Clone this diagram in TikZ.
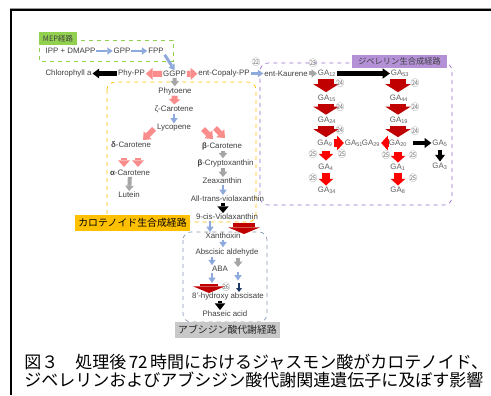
\documentclass[tikz,border=0pt]{standalone}
\usepackage{fontspec}
\setmainfont{Liberation Sans}
\newfontfamily\jp{Noto Sans CJK JP}
\usetikzlibrary{arrows.meta,calc}
\definecolor{txt}{RGB}{64,64,64}
\definecolor{blueA}{RGB}{142,169,219}
\definecolor{pinkA}{RGB}{250,140,140}
\definecolor{grayA}{RGB}{166,166,166}
\definecolor{dredA}{RGB}{192,0,0}
\definecolor{redA}{RGB}{255,0,0}
\definecolor{navyA}{RGB}{31,56,100}
\definecolor{mepG}{RGB}{146,208,80}
\definecolor{carO}{RGB}{255,192,0}
\definecolor{gibP}{RGB}{180,145,215}
\definecolor{gibL}{RGB}{150,110,200}
\definecolor{abaG}{RGB}{200,200,200}
\definecolor{abaL}{RGB}{132,151,176}
\newcommand\lblfont{\fontsize{5.9pt}{7pt}\selectfont}
\newcommand\cnfont{\jp\fontsize{6.6pt}{6.6pt}\selectfont}
\newcommand\GA[1]{GA\textsubscript{#1}}
\begin{document}
\begin{tikzpicture}[x=0.75pt,y=-0.75pt,
 lab/.style={font=\lblfont, text=txt, inner sep=0.6pt},
 gal/.style={font=\lblfont, text=txt!85, inner sep=0.6pt},
 cn/.style={font=\cnfont, text=black!50, inner sep=0pt},
 fat/.style n args={4}{color=#1, line width=#2, -{Triangle[length=#3,width=#4,line width=0pt]}},
 ablu/.style={fat={blueA}{2.2pt}{4pt}{5.5pt}},
 agry/.style={fat={grayA}{3pt}{4pt}{6.5pt}},
 apnk/.style={fat={pinkA}{4.5pt}{5pt}{9pt}},
 ablk/.style={fat={black}{3.2pt}{5pt}{7.5pt}},
 adred/.style={fat={dredA}{11.5pt}{6pt}{19pt}, shorten <=1pt, shorten >=1pt},
 ared/.style={fat={redA}{6pt}{5pt}{11pt}},
 abig/.style={fat={dredA}{17pt}{5pt}{24pt}},
 anavy/.style={fat={navyA}{1.4pt}{3pt}{4.5pt}},
 tag/.style={inner sep=0pt, text=txt},
 capt/.style={anchor=west, inner sep=0pt, font=\jp\fontsize{12.75pt}{12.75pt}\selectfont},
]
\useasboundingbox (0,0) rectangle (491,395);
\fill[white] (0,0) rectangle (491,395);
% frame
\draw[black!40, line width=0.4pt] (10,8.2) -- (491,8.2);
\draw[black, line width=1.5pt] (10.5,395) -- (10.5,10.5) -- (491,10.5);

% boxes
\draw[mepG, dashed, line width=0.5pt] (39,40) rectangle (173,61);
\draw[gibL, dashed, line width=0.5pt, rounded corners=6pt] (260,63) rectangle (452,205);
\draw[carO, dashed, line width=0.5pt, rounded corners=6pt] (107,82) rectangle (256,222);
\draw[abaL, dashed, line width=0.5pt, rounded corners=6pt] (183,232) rectangle (267,322);
\node[tag, fill=mepG, minimum width=28.5pt, minimum height=9.7pt, font=\jp\fontsize{5.6pt}{5.6pt}\selectfont] (mep) at (58,38.5) {MEP経路};
\node[tag, fill=gibP, minimum width=71.3pt, minimum height=9.7pt, font=\jp\fontsize{6.2pt}{6.2pt}\selectfont] (giblab) at (399.5,61.5) {ジベレリン生合成経路};
\node[tag, fill=carO, minimum width=86.3pt, minimum height=12pt, font=\jp\fontsize{7.4pt}{7.4pt}\selectfont, text=black] (carlab) at (132.5,222.5) {カロテノイド生合成経路};
\node[tag, fill=abaG, minimum width=78.8pt, minimum height=12pt, font=\jp\fontsize{7.4pt}{7.4pt}\selectfont, text=black!85] (abalab) at (227.5,330) {アブシジン酸代謝経路};

% helper columns
\coordinate (k1) at (326,0);
\coordinate (k2) at (398,0);
\coordinate (kb) at (223,0);
\coordinate (k210) at (210,0);
\coordinate (k212) at (212,0);
\coordinate (k220) at (220,0);

% MEP row
\node[lab] (ipp) at (70.5,51) {IPP + DMAPP};
\node[lab] (gpp) at (122,51) {GPP};
\node[lab] (fpp) at (156,51) {FPP};
\draw[ablu] (ipp) -- (gpp);
\draw[ablu] (gpp) -- (fpp);

% GGPP row
\node[lab] (chl) at (68.5,73.5) {Chlorophyll a};
\node[lab] (phypp) at (131.5,73.5) {Phy-PP};
\node[lab] (ggpp) at (174.5,74) {GGPP};
\node[lab] (cpp) at (224,73.5) {ent-Copaly-PP};
\node[lab] (kau) at (286,73.5) {ent-Kaurene};
\node[gal] (ga12) at (327,73.5) {\GA{12}};
\node[gal] (ga53) at (400,73.5) {\GA{53}};
\draw[ablu] (fpp.south east) -- (ggpp.north);
\draw[ablk] (phypp) -- (chl);
\draw[apnk] (ggpp) -- (phypp);
\draw[apnk] (ggpp) -- (cpp);
\draw[ablu] (cpp) -- (kau);
\draw[agry] (kau) -- (ga12);
\draw[fat={black}{3.8pt}{5.5pt}{8pt}] (ga12) -- (ga53);
\node[cn] (c22) at (256,62) {㉒};
\node[cn] (c23) at (313,63) {㉓};

% carotenoid pathway
\node[lab] (phyt) at (175,91) {Phytoene};
\node[lab] (zeta) at (174,109) {ζ-Carotene};
\node[lab] (lyc) at (174,128) {Lycopene};
\draw[agry] (ggpp) -- (phyt);
\draw[fat={pinkA}{4.5pt}{4pt}{9pt}] (phyt) -- (zeta);
\draw[ablu] (zeta) -- (lyc);
\node[lab] (dcar) at (131,144.5) {\textbf{δ}-Carotene};
\node[lab] (bcar) at (222,146) {\textbf{β}-Carotene};
\coordinate (pd1) at (154,129);
\coordinate (pd2) at (143,140);
\coordinate (pb1) at (203,129);
\coordinate (pb2) at (213,139);
\coordinate (pb3) at (215,128);
\coordinate (pb4) at (225,138);
\draw[fat={pinkA}{4pt}{5pt}{8.5pt}] (pd1) -- (pd2);
\draw[fat={pinkA}{4pt}{5pt}{8.5pt}] (pb1) -- (pb2);
\draw[fat={pinkA}{4pt}{5pt}{8.5pt}] (pb3) -- (pb4);
\node[lab] (acar) at (130,173) {\textbf{α}-Carotene};
\node[lab] (lut) at (129,195) {Lutein};
\coordinate (pa1) at (124,158);
\coordinate (pa2) at (124,167);
\coordinate (pa3) at (138,158);
\coordinate (pa4) at (138,167);
\draw[fat={pinkA}{4pt}{5pt}{9pt}] (pa1) -- (pa2);
\draw[fat={pinkA}{4pt}{5pt}{9pt}] (pa3) -- (pa4);
\draw[agry] (acar) -- (lut);
\node[lab] (bcry) at (225.5,163) {\textbf{β}-Cryptoxanthin};
\node[lab] (zea) at (222,181) {Zeaxanthin};
\node[lab] (atv) at (227.5,199) {All-trans-violaxanthin};
\node[lab] (cisv) at (227,217) {9-cis-Violaxanthin};
\draw[agry] (bcar.south -| kb) -- (bcry.north -| kb);
\draw[agry] (bcry.south -| kb) -- (zea.north -| kb);
\draw[ablu] (zea.south -| kb) -- (atv.north -| kb);
\draw[fat={black}{3.2pt}{5pt}{8.5pt}] (atv.south -| kb) -- (cisv.north -| kb);

% ABA pathway
\node[lab] (xan) at (223,236) {Xanthoxin};
\node[lab] (aald) at (227,252) {Abscisic aldehyde};
\node[lab] (aba) at (220,269) {ABA};
\node[lab] (hyd) at (228,296.5) {8'-hydroxy abscisate};
\node[lab] (pha) at (225,314) {Phaseic acid};
\draw[ablu] (cisv.south -| k210) -- (xan.north -| k210);
\coordinate (nx1) at (244,223);
\coordinate (nx2) at (244,234);
\draw[abig] (nx1) -- (nx2);
\draw[ablu] (xan) -- (aald.north -| xan);
\draw[ablu] (aald.south -| k212) -- (aba.north -| k212);
\coordinate (g1) at (238,257.5);
\coordinate (g2) at (238,267);
\draw[agry] (g1) -- (g2);
\coordinate (b1) at (212,273);
\coordinate (b2) at (212,283);
\draw[ablu] (b1) -- (b2);
\coordinate (b3) at (238,271.5);
\coordinate (b4) at (238,280.5);
\draw[ablu] (b3) -- (b4);
\coordinate (n1) at (239,283);
\coordinate (n2) at (239,292);
\draw[anavy] (n1) -- (n2);
\coordinate (r1) at (209,283.5);
\coordinate (r2) at (209,293);
\draw[fat={dredA}{14pt}{5pt}{24pt}] (r1) -- (r2);
\node[cn] (c26) at (226,287) {㉖};
\draw[fat={black}{3.2pt}{5pt}{8pt}] (hyd.south -| k220) -- (pha.north -| k220);

% gibberellin grid
\node[gal] (ga15) at (327,98) {\GA{15}};
\node[gal] (ga44) at (399,98) {\GA{44}};
\node[gal] (ga24) at (327,120.5) {\GA{24}};
\node[gal] (ga19) at (399,120.5) {\GA{19}};
\node[gal] (ga9) at (325,143) {\GA{9}};
\node[gal] (ga51) at (354,143) {\GA{51}};
\node[gal] (ga29) at (371,143) {\GA{29}};
\node[gal] (ga20) at (398,143) {\GA{20}};
\node[gal] (ga5) at (440,143) {\GA{5}};
\node[gal] (ga4) at (326,167) {\GA{4}};
\node[gal] (ga1) at (398,167) {\GA{1}};
\node[gal] (ga3) at (440,166) {\GA{3}};
\node[gal] (ga34) at (327,190) {\GA{34}};
\node[gal] (ga8) at (398,190) {\GA{8}};
\draw[adred] (ga12.south -| k1) -- (ga15.north -| k1);
\draw[adred] (ga15.south -| k1) -- (ga24.north -| k1);
\draw[adred] (ga24.south -| k1) -- (ga9.north -| k1);
\draw[adred] (ga53.south -| k2) -- (ga44.north -| k2);
\draw[adred] (ga44.south -| k2) -- (ga19.north -| k2);
\draw[adred] (ga19.south -| k2) -- (ga20.north -| k2);
\draw[ared] (ga9) -- (ga51);
\draw[ared] (ga20) -- (ga29);
\draw[ared, shorten <=2.5pt, shorten >=1.5pt] (ga9.south -| k1) -- (ga4.north -| k1);
\draw[ared, shorten <=1pt] (ga4.south -| k1) -- (ga34.north -| k1);
\draw[ared, shorten <=3pt] (ga20.south -| k2) -- (ga1.north -| k2);
\draw[ared, shorten <=1pt] (ga1.south -| k2) -- (ga8.north -| k2);
\draw[fat={black}{3.6pt}{5pt}{7.5pt}, shorten <=4pt] (ga20) -- (ga5);
\draw[ablk, shorten <=2pt] (ga5) -- (ga3);
\node[cn] (c24a) at (340,83) {㉔};
\node[cn] (c24b) at (340,107) {㉔};
\node[cn] (c24c) at (340,130) {㉔};
\node[cn] (c24d) at (415,83) {㉔};
\node[cn] (c24e) at (415,107) {㉔};
\node[cn] (c24f) at (415,131) {㉔};
\node[cn] (c25a) at (313,154) {㉕};
\node[cn] (c25b) at (342,154) {㉕};
\node[cn] (c25c) at (386,155) {㉕};
\node[cn] (c25d) at (413,155) {㉕};
\node[cn] (c25e) at (313,178) {㉕};
\node[cn] (c25f) at (413,178) {㉕};

% caption
\node[capt] (cap1) at (24,362) {\hbox to 342pt{図３　処理後\hspace{0.15em plus 1fil}72\hspace{0.15em plus 1fil}時間におけるジャスモン酸がカロテノイド、}};
\node[capt] (cap2) at (24,380) {ジベレリンおよびアブシジン酸代謝関連遺伝子に及ぼす影響};
\end{tikzpicture}
\end{document}
